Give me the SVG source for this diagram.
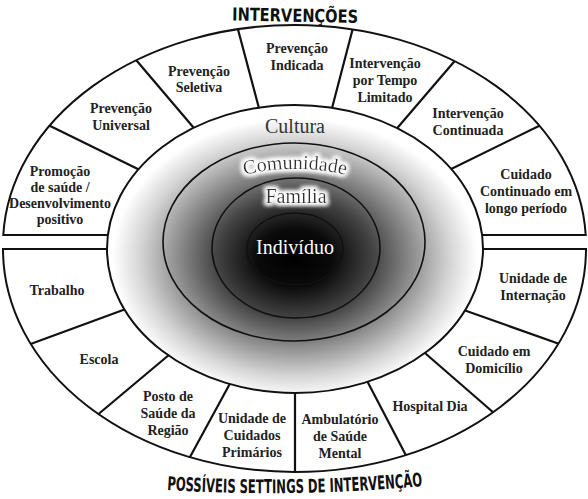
<svg xmlns="http://www.w3.org/2000/svg" width="588" height="499" viewBox="0 0 588 499">
<style>
.half{fill:#fff;stroke:none}
.edge{fill:none;stroke:#111;stroke-width:2}
.div{stroke:#111;stroke-width:2.2;fill:none}
.ring{fill:none;stroke:#111;stroke-width:1.6}
.lbl{font-family:"Liberation Serif","Times New Roman",serif;font-weight:bold;font-size:14px;fill:#222;text-anchor:middle}
.ctr{font-family:"Liberation Serif","Times New Roman",serif;font-size:20px;fill:#333;text-anchor:middle}
.ttl{font-family:"Liberation Sans Narrow","DejaVu Sans Condensed","Liberation Sans",sans-serif;font-weight:bold;fill:#111}
</style>
<defs>
<radialGradient id="grad" cx="0.5" cy="0.53" r="0.5">
<stop offset="0" stop-color="#000"/>
<stop offset="0.2" stop-color="#0a0a0a"/>
<stop offset="0.42" stop-color="#444"/>
<stop offset="0.62" stop-color="#8c8c8c"/>
<stop offset="0.82" stop-color="#d4d4d4"/>
<stop offset="0.97" stop-color="#fff"/>
</radialGradient>
<clipPath id="clipHalves">
<path d="M3.3,235 A291.5,220 0 0 1 585.7,235 Z"/>
<path d="M3,249 A291.5,223 0 0 0 586,249 Z"/>
</clipPath>
<filter id="glow" x="-20%" y="-60%" width="140%" height="220%">
<feMorphology in="SourceAlpha" operator="dilate" radius="1.5" result="d"/>
<feGaussianBlur in="d" stdDeviation="2" result="b"/>
<feFlood flood-color="#fff"/>
<feComposite in2="b" operator="in" result="g"/>
<feMerge><feMergeNode in="g"/><feMergeNode in="g"/><feMergeNode in="SourceGraphic"/></feMerge>
</filter>
</defs>
<rect width="588" height="499" fill="#fff"/>

<g id="halves">
<path class="half" d="M3.3,235 A291.5,220 0 0 1 585.7,235 Z"/>
<path class="half" d="M3,249 A291.5,223 0 0 0 586,249 Z"/>
</g>

<g id="connectors" clip-path="url(#clipHalves)">
<line class="div" x1="40" y1="121" x2="148" y2="174"/>
<line class="div" x1="131" y1="54" x2="199" y2="134"/>
<line class="div" x1="236" y1="22" x2="260" y2="112"/>
<line class="div" x1="354" y1="24" x2="331" y2="112"/>
<line class="div" x1="459" y1="56" x2="393" y2="133"/>
<line class="div" x1="547" y1="122" x2="443" y2="173"/>
<line class="div" x1="17" y1="349" x2="134" y2="306"/>
<line class="div" x1="89" y1="422" x2="176" y2="349"/>
<line class="div" x1="184" y1="468" x2="233" y2="378"/>
<line class="div" x1="295" y1="480" x2="295" y2="380"/>
<line class="div" x1="411" y1="465" x2="364" y2="375"/>
<line class="div" x1="502" y1="420" x2="418" y2="347"/>
<line class="div" x1="568" y1="347" x2="458" y2="308"/>
</g>

<g id="outline">
<path class="edge" d="M3.3,235 A291.5,220 0 0 1 585.7,235 Z"/>
<path class="edge" d="M3,249 A291.5,223 0 0 0 586,249 Z"/>
</g>

<g id="cultura">
<ellipse cx="295" cy="249" rx="188" ry="144" fill="url(#grad)" stroke="#111" stroke-width="2"/>
<text class="ctr" x="295" y="133" font-size="19">Cultura</text>
</g>
<g id="comunidade">
<ellipse class="ring" cx="294" cy="242" rx="131" ry="99"/>
<path id="arcCom" d="M225,180 Q295,158 365,180" fill="none"/>
<text class="ctr" filter="url(#glow)"><textPath href="#arcCom" startOffset="50%">Comunidade</textPath></text>
</g>
<g id="familia">
<ellipse class="ring" cx="296" cy="248" rx="84" ry="70"/>
<text class="ctr" x="296" y="203" filter="url(#glow)">Família</text>
</g>
<g id="individuo">
<ellipse class="ring" cx="295" cy="249" rx="48" ry="36"/>
<text class="ctr" x="295" y="254" font-size="22" style="fill:#fff">Indivíduo</text>
</g>

<g id="seg-promocao"><text class="lbl" x="60" y="176">Promoção</text><text class="lbl" x="60" y="192">de saúde /</text><text class="lbl" x="60" y="208">Desenvolvimento</text><text class="lbl" x="60" y="224">positivo</text></g>
<g id="seg-universal"><text class="lbl" x="121" y="113">Prevenção</text><text class="lbl" x="121" y="130">Universal</text></g>
<g id="seg-seletiva"><text class="lbl" x="199" y="76">Prevenção</text><text class="lbl" x="199" y="92">Seletiva</text></g>
<g id="seg-indicada"><text class="lbl" x="297" y="53">Prevenção</text><text class="lbl" x="297" y="70">Indicada</text></g>
<g id="seg-tempo"><text class="lbl" x="385" y="68">Intervenção</text><text class="lbl" x="385" y="85">por Tempo</text><text class="lbl" x="385" y="102">Limitado</text></g>
<g id="seg-continuada"><text class="lbl" x="468" y="118">Intervenção</text><text class="lbl" x="468" y="135">Continuada</text></g>
<g id="seg-cuidado-continuado"><text class="lbl" x="526" y="179">Cuidado</text><text class="lbl" x="526" y="196">Continuado em</text><text class="lbl" x="526" y="213">longo período</text></g>

<g id="seg-trabalho"><text class="lbl" x="57" y="295">Trabalho</text></g>
<g id="seg-escola"><text class="lbl" x="99" y="364">Escola</text></g>
<g id="seg-posto"><text class="lbl" x="168" y="401">Posto de</text><text class="lbl" x="168" y="418">Saúde da</text><text class="lbl" x="168" y="435">Região</text></g>
<g id="seg-primarios"><text class="lbl" x="252" y="423">Unidade de</text><text class="lbl" x="252" y="440">Cuidados</text><text class="lbl" x="252" y="457">Primários</text></g>
<g id="seg-ambulatorio"><text class="lbl" x="340" y="424">Ambulatório</text><text class="lbl" x="340" y="441">de Saúde</text><text class="lbl" x="340" y="458">Mental</text></g>
<g id="seg-hospital"><text class="lbl" x="430" y="411">Hospital Dia</text></g>
<g id="seg-domicilio"><text class="lbl" x="494" y="356">Cuidado em</text><text class="lbl" x="494" y="373">Domicílio</text></g>
<g id="seg-internacao"><text class="lbl" x="533" y="283">Unidade de</text><text class="lbl" x="533" y="300">Internação</text></g>

<g id="title-top">
<path id="ttlTop" d="M232,20.5 L360,23" fill="none"/>
<text class="ttl" font-size="18"><textPath href="#ttlTop" textLength="126" lengthAdjust="spacingAndGlyphs">INTERVENÇÕES</textPath></text>
</g>
<g id="title-bottom">
<path id="ttlBot" d="M167,490 Q290,498 425,486" fill="none"/>
<text class="ttl" font-size="19"><textPath href="#ttlBot" textLength="256" lengthAdjust="spacingAndGlyphs">POSSÍVEIS SETTINGS DE INTERVENÇÃO</textPath></text>
</g>
</svg>
